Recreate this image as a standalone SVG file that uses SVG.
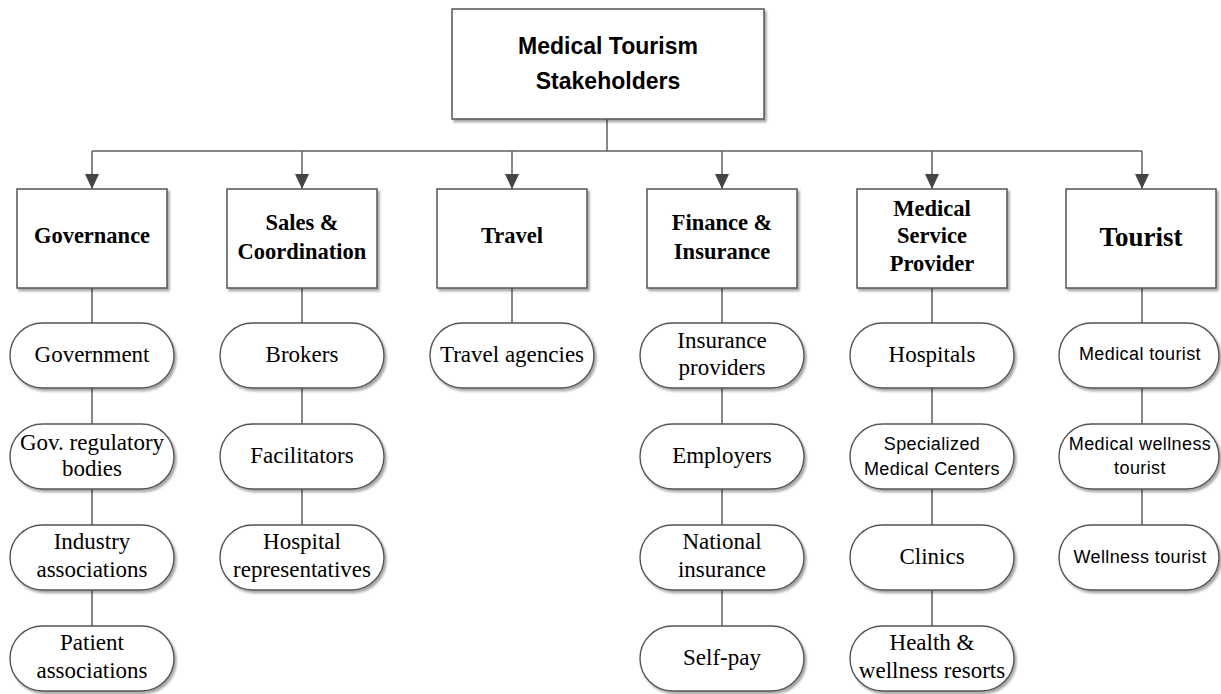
<svg xmlns="http://www.w3.org/2000/svg" width="1221" height="694" viewBox="0 0 1221 694">
<style>
.box{fill:#fff;stroke:#555;stroke-width:1.5;filter:url(#sh)}
.pill{fill:#fff;stroke:#555;stroke-width:1.4;filter:url(#sh)}
.ln{stroke:#5f5f5f;stroke-width:1.5;fill:none}
.title{font-family:"Liberation Sans",Arial,sans-serif;font-weight:bold;font-size:23px;fill:#000;text-anchor:middle}
.cat{font-family:"Liberation Serif","Times New Roman",serif;font-weight:bold;font-size:22.5px;fill:#000;text-anchor:middle}
.ser{font-family:"Liberation Serif","Times New Roman",serif;font-size:23px;fill:#000;text-anchor:middle}
.san{font-family:"Liberation Sans",Arial,sans-serif;font-size:18px;letter-spacing:0.4px;fill:#000;text-anchor:middle}
</style>
<defs>
<filter id="sh" x="-10%" y="-10%" width="130%" height="140%">
<feDropShadow dx="2" dy="2.5" stdDeviation="1.2" flood-color="#000" flood-opacity="0.35"/>
</filter>
<marker id="arr" markerUnits="userSpaceOnUse" markerWidth="16" markerHeight="16" viewBox="0 0 16 16" refX="15" refY="8" orient="auto">
<path d="M0,1 L15,8 L0,15 Z" fill="#444"/>
</marker>
</defs>

<g id="connectors">
<line class="ln" x1="607" y1="119" x2="607" y2="151"/>
<line class="ln" x1="92" y1="151" x2="1142" y2="151"/>
<line class="ln" x1="92" y1="151" x2="92" y2="189" marker-end="url(#arr)"/>
<line class="ln" x1="302" y1="151" x2="302" y2="189" marker-end="url(#arr)"/>
<line class="ln" x1="512" y1="151" x2="512" y2="189" marker-end="url(#arr)"/>
<line class="ln" x1="722" y1="151" x2="722" y2="189" marker-end="url(#arr)"/>
<line class="ln" x1="932" y1="151" x2="932" y2="189" marker-end="url(#arr)"/>
<line class="ln" x1="1142" y1="151" x2="1142" y2="189" marker-end="url(#arr)"/>
<line class="ln" x1="92" y1="288" x2="92" y2="626"/>
<line class="ln" x1="302" y1="288" x2="302" y2="525"/>
<line class="ln" x1="512" y1="288" x2="512" y2="323"/>
<line class="ln" x1="722" y1="288" x2="722" y2="626"/>
<line class="ln" x1="932" y1="288" x2="932" y2="626"/>
<line class="ln" x1="1142" y1="288" x2="1142" y2="525"/>
</g>

<g id="root">
<rect class="box" x="452" y="9" width="312" height="110"/>
<text class="title" x="608" y="54">Medical Tourism</text>
<text class="title" x="608" y="89">Stakeholders</text>
</g>

<g id="governance">
<rect class="box" x="17" y="189" width="150" height="99"/>
<text class="cat" x="92" y="243">Governance</text>
</g>
<g id="sales">
<rect class="box" x="227" y="189" width="150" height="99"/>
<text class="cat" x="302" y="230">Sales &amp;</text>
<text class="cat" x="302" y="259">Coordination</text>
</g>
<g id="travel">
<rect class="box" x="437" y="189" width="150" height="99"/>
<text class="cat" x="512" y="243">Travel</text>
</g>
<g id="finance">
<rect class="box" x="647" y="189" width="150" height="99"/>
<text class="cat" x="722" y="230">Finance &amp;</text>
<text class="cat" x="722" y="259">Insurance</text>
</g>
<g id="medical">
<rect class="box" x="857" y="189" width="150" height="99"/>
<text class="cat" x="932" y="216">Medical</text>
<text class="cat" x="932" y="243">Service</text>
<text class="cat" x="932" y="271">Provider</text>
</g>
<g id="tourist">
<rect class="box" x="1066" y="189" width="150" height="99"/>
<text class="cat" x="1141" y="246" style="font-size:27px">Tourist</text>
</g>

<g id="government">
<rect class="pill" x="10" y="323" width="164" height="65" rx="32.5"/>
<text class="ser" x="92" y="362">Government</text>
</g>
<g id="gov-regulatory">
<rect class="pill" x="10" y="424" width="164" height="65" rx="32.5"/>
<text class="ser" x="92" y="450">Gov. regulatory</text>
<text class="ser" x="92" y="476">bodies</text>
</g>
<g id="industry">
<rect class="pill" x="10" y="525" width="164" height="65" rx="32.5"/>
<text class="ser" x="92" y="549">Industry</text>
<text class="ser" x="92" y="577">associations</text>
</g>
<g id="patient">
<rect class="pill" x="10" y="626" width="164" height="65" rx="32.5"/>
<text class="ser" x="92" y="650">Patient</text>
<text class="ser" x="92" y="678">associations</text>
</g>

<g id="brokers">
<rect class="pill" x="220" y="323" width="164" height="65" rx="32.5"/>
<text class="ser" x="302" y="362">Brokers</text>
</g>
<g id="facilitators">
<rect class="pill" x="220" y="424" width="164" height="65" rx="32.5"/>
<text class="ser" x="302" y="463">Facilitators</text>
</g>
<g id="hospital-reps">
<rect class="pill" x="220" y="525" width="164" height="65" rx="32.5"/>
<text class="ser" x="302" y="549">Hospital</text>
<text class="ser" x="302" y="577">representatives</text>
</g>

<g id="travel-agencies">
<rect class="pill" x="430" y="323" width="164" height="65" rx="32.5"/>
<text class="ser" x="512" y="362">Travel agencies</text>
</g>

<g id="insurance-providers">
<rect class="pill" x="640" y="323" width="164" height="65" rx="32.5"/>
<text class="ser" x="722" y="348">Insurance</text>
<text class="ser" x="722" y="375">providers</text>
</g>
<g id="employers">
<rect class="pill" x="640" y="424" width="164" height="65" rx="32.5"/>
<text class="ser" x="722" y="463">Employers</text>
</g>
<g id="national-insurance">
<rect class="pill" x="640" y="525" width="164" height="65" rx="32.5"/>
<text class="ser" x="722" y="549">National</text>
<text class="ser" x="722" y="577">insurance</text>
</g>
<g id="self-pay">
<rect class="pill" x="640" y="626" width="164" height="65" rx="32.5"/>
<text class="ser" x="722" y="665">Self-pay</text>
</g>

<g id="hospitals">
<rect class="pill" x="850" y="323" width="164" height="65" rx="32.5"/>
<text class="ser" x="932" y="362">Hospitals</text>
</g>
<g id="specialized">
<rect class="pill" x="850" y="424" width="164" height="65" rx="32.5"/>
<text class="san" x="932" y="450">Specialized</text>
<text class="san" x="932" y="475">Medical Centers</text>
</g>
<g id="clinics">
<rect class="pill" x="850" y="525" width="164" height="65" rx="32.5"/>
<text class="ser" x="932" y="564">Clinics</text>
</g>
<g id="resorts">
<rect class="pill" x="850" y="626" width="164" height="65" rx="32.5"/>
<text class="ser" x="932" y="650">Health &amp;</text>
<text class="ser" x="932" y="678">wellness resorts</text>
</g>

<g id="medical-tourist">
<rect class="pill" x="1059" y="323" width="160" height="65" rx="32.5"/>
<text class="san" x="1140" y="360">Medical tourist</text>
</g>
<g id="medical-wellness-tourist">
<rect class="pill" x="1059" y="424" width="160" height="65" rx="32.5"/>
<text class="san" x="1140" y="450">Medical wellness</text>
<text class="san" x="1140" y="474">tourist</text>
</g>
<g id="wellness-tourist">
<rect class="pill" x="1059" y="525" width="160" height="65" rx="32.5"/>
<text class="san" x="1140" y="563">Wellness tourist</text>
</g>
</svg>
